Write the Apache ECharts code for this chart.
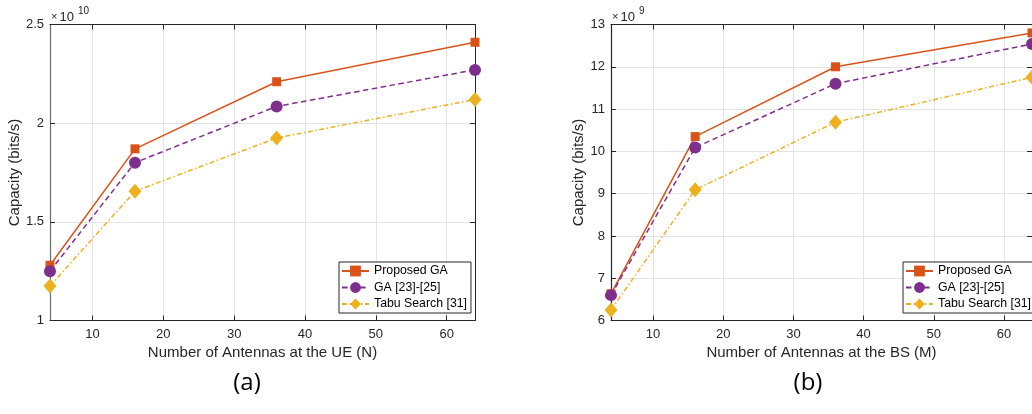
<!DOCTYPE html>
<html>
<head>
<meta charset="utf-8">
<script src="https://cdn.jsdelivr.net/npm/echarts@6/dist/echarts.min.js"></script>
<style>
  html, body { margin: 0; padding: 0; background: #fff; }
  #chart { width: 1032px; height: 414px; }
</style>
</head>
<body>
<div id="chart"></div>
<script>
// Antenna counts on the horizontal axis
const antennas = [4, 16, 36, 64];
const xTickValues = [10, 20, 30, 40, 50, 60];

// (a) capacity vs. number of UE antennas, in units of 1e10 bits/s
const ueProposedGA = [1.28, 1.87, 2.21, 2.41];
const ueGA = [1.25, 1.80, 2.085, 2.27];
const ueTabu = [1.175, 1.655, 1.925, 2.12];

// (b) capacity vs. number of BS antennas, in units of 1e9 bits/s
const bsProposedGA = [6.63, 10.35, 12.0, 12.80];
const bsGA = [6.6, 10.09, 11.6, 12.54];
const bsTabu = [6.25, 9.09, 10.69, 11.75];

const seriesNames = ['Proposed GA', 'GA [23]-[25]', 'Tabu Search [31]'];

const FONT = "'Liberation Sans', Arial, Helvetica, sans-serif";
const AX = '#262626';
const GRIDLINE = '#e3e3e3';

const styles = [
  { color: '#D95319', symbol: 'rect', size: 9, line: 'solid' },
  { color: '#7E2F8E', symbol: 'circle', size: 12, line: [5.5, 3.5] },
  { color: '#EDB120', symbol: 'diamond', size: [13, 15], line: [5, 2.5, 1.5, 2.5] }
];

function pairs(ys) { return antennas.map((x, i) => [x, ys[i]]); }

function bottomX(grid, name) {
  return {
    type: 'value', gridIndex: grid, position: 'bottom', min: 4, max: 64,
    name: name, nameLocation: 'middle', nameGap: 25,
    nameTextStyle: { fontFamily: FONT, fontSize: 15, color: AX },
    axisLine: { show: true, onZero: false, lineStyle: { color: AX, width: 1 } },
    axisTick: { show: true, inside: true, length: 5, customValues: xTickValues, lineStyle: { color: AX } },
    axisLabel: { show: true, margin: 7, customValues: xTickValues, fontFamily: FONT, fontSize: 13, color: AX },
    splitLine: { show: true, lineStyle: { color: GRIDLINE, width: 1 } }
  };
}
function topX(grid) {
  return {
    type: 'value', gridIndex: grid, position: 'top', min: 4, max: 64,
    axisLine: { show: true, onZero: false, lineStyle: { color: AX, width: 1 } },
    axisTick: { show: true, inside: true, length: 5, customValues: xTickValues, lineStyle: { color: AX } },
    axisLabel: { show: false },
    splitLine: { show: false }
  };
}
function leftY(grid, min, max, interval, nameGap, lineColor) {
  return {
    type: 'value', gridIndex: grid, position: 'left', min: min, max: max, interval: interval,
    name: 'Capacity (bits/s)', nameLocation: 'middle', nameGap: nameGap,
    nameTextStyle: { fontFamily: FONT, fontSize: 15, color: AX },
    axisLine: { show: true, onZero: false, lineStyle: { color: lineColor, width: 1.2 } },
    axisTick: { show: true, inside: true, length: 5, lineStyle: { color: AX } },
    axisLabel: { show: true, margin: 6, fontFamily: FONT, fontSize: 13, color: AX },
    splitLine: { show: true, lineStyle: { color: GRIDLINE, width: 1 } }
  };
}
function rightY(grid, min, max, interval) {
  return {
    type: 'value', gridIndex: grid, position: 'right', min: min, max: max, interval: interval,
    axisLine: { show: true, onZero: false, lineStyle: { color: AX, width: 1 } },
    axisTick: { show: true, inside: true, length: 5, lineStyle: { color: AX } },
    axisLabel: { show: false },
    splitLine: { show: false }
  };
}

function makeSeries(valueSets, xIdx, yIdx) {
  return valueSets.map((vals, i) => ({
    name: seriesNames[i], type: 'line', xAxisIndex: xIdx, yAxisIndex: yIdx,
    data: pairs(vals), clip: false,
    symbol: styles[i].symbol, symbolSize: styles[i].size, showSymbol: true,
    lineStyle: { color: styles[i].color, width: 1.5, type: styles[i].line },
    itemStyle: { color: styles[i].color, borderWidth: 0 },
    emphasis: { disabled: true },
    animation: false
  }));
}

function legendAt(left) {
  return {
    left: left, top: 262, orient: 'vertical', data: seriesNames, selectedMode: false,
    itemWidth: 27, itemHeight: 13.5, itemGap: 4.5, padding: [3, 4, 3, 2],
    backgroundColor: '#fff', borderColor: AX, borderWidth: 1, borderRadius: 0,
    textStyle: { fontFamily: FONT, fontSize: 12.3, color: '#000' }
  };
}

function exponentLabel(x, exp) {
  return [
    { type: 'text', x: x, y: 16.5, style: { text: '×', font: '11px ' + FONT, fill: AX, verticalAlign: 'middle' } },
    { type: 'text', x: x + 8.5, y: 17, style: { text: '10', font: '13px ' + FONT, fill: AX, verticalAlign: 'middle' } },
    { type: 'text', x: x + 27, y: 11.5, style: { text: exp, font: '10px ' + FONT, fill: AX, verticalAlign: 'middle' } }
  ];
}

const option = {
  backgroundColor: '#fff',
  animation: false,
  grid: [
    { left: 50, top: 24.5, width: 425, height: 296, containLabel: false },
    { left: 611, top: 24.5, width: 425, height: 296, containLabel: false }
  ],
  xAxis: [
    bottomX(0, 'Number of Antennas at the UE (N)'), topX(0),
    bottomX(1, 'Number of Antennas at the BS (M)'), topX(1)
  ],
  yAxis: [
    leftY(0, 1, 2.5, 0.5, 27, '#6a6a6a'), rightY(0, 1, 2.5, 0.5),
    leftY(1, 6, 13, 1, 23, AX), rightY(1, 6, 13, 1)
  ],
  legend: [legendAt(339), legendAt(903)],
  series: [
    ...makeSeries([ueProposedGA, ueGA, ueTabu], 0, 0),
    ...makeSeries([bsProposedGA, bsGA, bsTabu], 2, 2)
  ],
  graphic: [
    ...exponentLabel(51, '10'),
    ...exponentLabel(612, '9'),
    { type: 'text', x: 247, y: 383, style: { text: '(a)', font: "24px 'Open Sans', 'Noto Sans', sans-serif", fill: '#000', align: 'center', verticalAlign: 'middle' } },
    { type: 'text', x: 808, y: 383, style: { text: '(b)', font: "24px 'Open Sans', 'Noto Sans', sans-serif", fill: '#000', align: 'center', verticalAlign: 'middle' } }
  ]
};

const chart = echarts.init(document.getElementById('chart'), null, { renderer: 'canvas' });
chart.setOption(option);
</script>
</body>
</html>
